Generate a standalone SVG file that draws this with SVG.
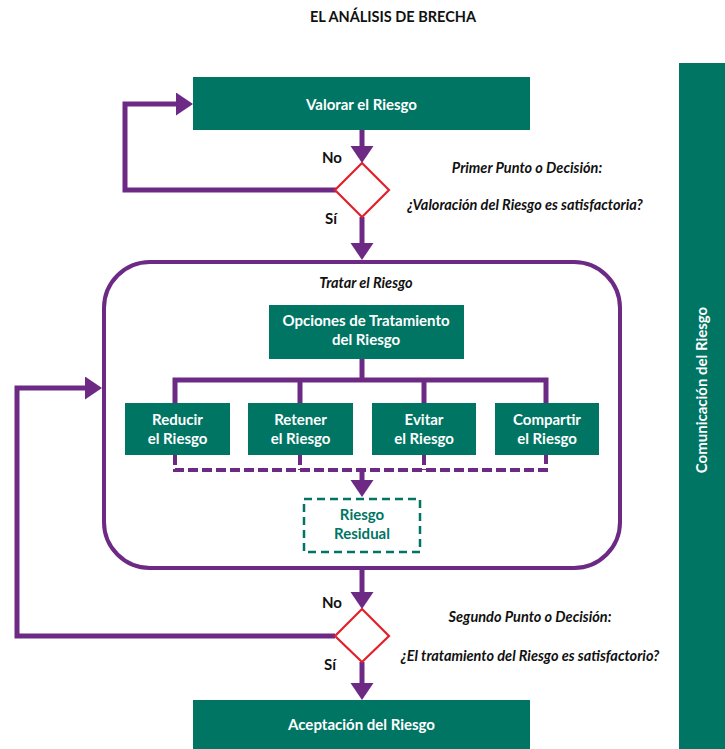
<svg xmlns="http://www.w3.org/2000/svg" width="725" height="749" viewBox="0 0 725 749">
  <style>
    .box { fill: #007563; }
    .wt { fill: #ffffff; font-family: Lato, "Liberation Sans", sans-serif; font-weight: bold; font-size: 15px; text-anchor: middle; }
    .bk { fill: #111111; font-family: Lato, "Liberation Sans", sans-serif; font-weight: bold; font-size: 15px; text-anchor: middle; }
    .it { fill: #111111; font-family: Lato, "Liberation Sans", sans-serif; font-weight: bold; font-style: italic; font-size: 14.5px; text-anchor: middle; }
    .conn { fill: none; stroke: #6c2a85; stroke-width: 5; }
    .dash { fill: none; stroke: #6c2a85; stroke-width: 4; stroke-dasharray: 10 4; }
    .dia { fill: #ffffff; stroke: #e3202a; stroke-width: 2.2; }
  </style>
  <defs>
    <marker id="ah" markerUnits="userSpaceOnUse" markerWidth="18" markerHeight="24" refX="0" refY="11.5" orient="auto">
      <path d="M0,0 L17,11.5 L0,23 z" fill="#6c2a85"/>
    </marker>
  </defs>

  <text x="393" y="22" class="bk" style="font-size:14.5px">EL ANÁLISIS DE BRECHA</text>

  <g id="comunicacion">
    <rect x="679" y="63" width="46" height="686" class="box"/>
    <text class="wt" transform="translate(707,390) rotate(-90)">Comunicación del Riesgo</text>
  </g>

  <g id="tratar">
    <rect x="104" y="262" width="516" height="306" rx="46" ry="46" fill="none" stroke="#6c2a85" stroke-width="4"/>
    <text x="366" y="288" class="it">Tratar el Riesgo</text>
  </g>

  <g id="connectors">
    <path class="conn" d="M362,130 V146" marker-end="url(#ah)"/>
    <path class="conn" d="M336,190 H125 V104 H176" marker-end="url(#ah)"/>
    <path class="conn" d="M362,217 V243" marker-end="url(#ah)"/>
    <path class="conn" d="M362,359 V380"/>
    <path class="conn" d="M175,404 V380 H546 V404"/>
    <path class="conn" d="M300,380 V404"/>
    <path class="conn" d="M424,380 V404"/>
    <path class="dash" d="M175,455 V470 H546 V455"/>
    <path class="dash" d="M300,455 V470"/>
    <path class="dash" d="M424,455 V470"/>
    <path class="conn" d="M362,470 V480" marker-end="url(#ah)"/>
    <path class="conn" d="M362,570 V592" marker-end="url(#ah)"/>
    <path class="conn" d="M335,636 H17 V388 H85" marker-end="url(#ah)"/>
    <path class="conn" d="M362,662 V683" marker-end="url(#ah)"/>
  </g>

  <g id="valorar">
    <rect x="193" y="77" width="337" height="53" class="box"/>
    <text x="361.5" y="110" class="wt">Valorar el Riesgo</text>
  </g>

  <g id="decision1">
    <polygon points="362,163 389,190 362,217 335,190" class="dia"/>
    <text x="332" y="163" class="bk">No</text>
    <text x="331" y="224" class="bk">Sí</text>
    <text x="527" y="173" class="it">Primer Punto o Decisión:</text>
    <text x="525" y="210" class="it">¿Valoración del Riesgo es satisfactoria?</text>
  </g>

  <g id="opciones">
    <rect x="269" y="305" width="195" height="54" class="box"/>
    <text x="366" y="326" class="wt">Opciones de Tratamiento</text>
    <text x="366" y="345" class="wt">del Riesgo</text>
  </g>

  <g id="reducir">
    <rect x="125" y="403" width="105" height="52" class="box"/>
    <text x="177.5" y="425" class="wt">Reducir</text>
    <text x="177.5" y="444" class="wt">el Riesgo</text>
  </g>
  <g id="retener">
    <rect x="248" y="403" width="105" height="52" class="box"/>
    <text x="300.5" y="425" class="wt">Retener</text>
    <text x="300.5" y="444" class="wt">el Riesgo</text>
  </g>
  <g id="evitar">
    <rect x="372" y="403" width="104" height="52" class="box"/>
    <text x="424" y="425" class="wt">Evitar</text>
    <text x="424" y="444" class="wt">el Riesgo</text>
  </g>
  <g id="compartir">
    <rect x="495" y="403" width="104" height="52" class="box"/>
    <text x="547" y="425" class="wt">Compartir</text>
    <text x="547" y="444" class="wt">el Riesgo</text>
  </g>

  <g id="residual">
    <rect x="304" y="499" width="116" height="53" fill="#ffffff" stroke="#007563" stroke-width="2.5" stroke-dasharray="8 5"/>
    <text x="362" y="520" class="wt" style="fill:#007563">Riesgo</text>
    <text x="362" y="539" class="wt" style="fill:#007563">Residual</text>
  </g>

  <g id="decision2">
    <polygon points="362,609 389,636 362,662 335,636" class="dia"/>
    <text x="332" y="608" class="bk">No</text>
    <text x="330" y="670" class="bk">Sí</text>
    <text x="530" y="622" class="it">Segundo Punto o Decisión:</text>
    <text x="530" y="661" class="it">¿El tratamiento del Riesgo es satisfactorio?</text>
  </g>

  <g id="aceptacion">
    <rect x="193" y="700" width="337" height="49" class="box"/>
    <text x="361.5" y="730" class="wt">Aceptación del Riesgo</text>
  </g>
</svg>
